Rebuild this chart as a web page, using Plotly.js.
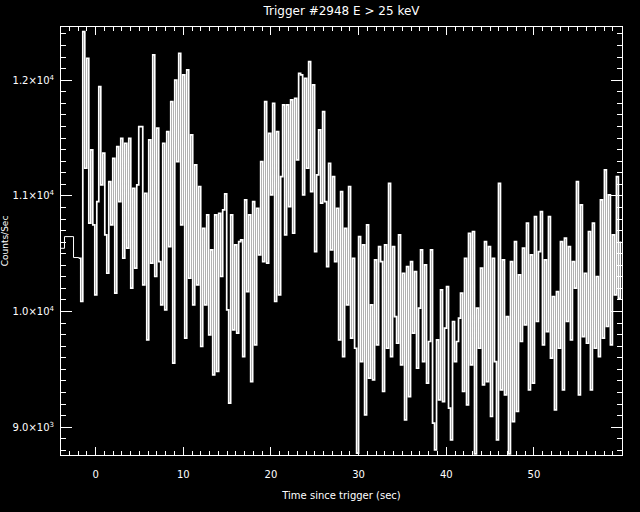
<!DOCTYPE html>
<html>
<head>
<meta charset="utf-8">
<script src="https://cdn.plot.ly/plotly-3.0.1.min.js"></script>
<style>html,body{margin:0;padding:0;background:#000;}#chart{width:640px;height:512px;}</style>
</head>
<body>
<div id="chart"></div>
<script>
// Pre-trigger (1.024 s) bins: start times and counts/sec
const preTimes = [-4.58, -3.55, -2.52];
const preCounts = [10547, 10648, 10467];

// Post-trigger high-resolution data: start time and bin width (sec)
const fineStart = -1.92;
const fineBin = 0.228;
const fineCounts = [
  10461,10087,12420,11239,12190,10764,11397,10749,10144,10951,11945,11095,11369,10663,10331,11124,
  10749,11325,10159,11426,10951,11498,10461,11455,10548,11498,10202,11066,10375,11095,11599,
  11599,10231,11023,9755,11484,10418,12219,10303,11585,10432,10058,11455,10015,11556,10562,11815,
  9554,12002,11297,12233,10749,12046,9770,12089,10288,11527,10058,11268,10231,11081,9698,10720,
  10058,10836,9799,10533,9453,10836,9482,10850,
  10303,10879,11017,10015,9208,10836,9842,10576,9813,10605,10620,9611,10965,10173,10836,9395,
  10951,9712,10893,10490,11297,10432,11815,10418,11541,11009,11801,10087,11556,10144,11167,11786,
  10663,11786,10908,11830,10677,11844,11311,12060,
  12046,11009,12017,11239,12161,11037,11959,10519,11181,11570,10937,11729,10951,10389,11282,10533,
  11167,10432,10893,9755,11037,9611,10720,10058,11081,9770,10461,9683,8776,10648,9568,10576,
  9107,10749,9424,10058,9410,10447,9712,10562,
  10432,9309,10576,9683,11109,9611,10562,9957,9726,10663,9539,10331,9064,10389,9265,10432,
  9813,10346,9510,10029,10533,9568,10403,9381,9741,10533,9035,8805,9755,9237,10187,9222,
  9856,10216,9165,8891,9914,9568,9741,9943,
  10159,9309,10461,9193,10677,9539,10692,8770,10029,9683,10375,9366,10605,9395,10562,9093,
  10461,9568,8891,11109,9323,10447,9280,9957,8770,10432,9049,10605,9136,10317,9741,10548,
  9885,10764,9323,10490,9381,10821,9914,10519,
  10864,9712,10447,9827,10821,9597,10130,9150,10173,9683,10605,9323,10634,9914,10562,9755,
  10432,10202,11124,9280,10922,9784,10331,9726,10692,9323,10764,9683,10303,9611,10965,9770,
  11225,9871,11009,9712,10663,10144,11167,10115,10605
];

// Axis ticks
const yTickVals = [9000, 10000, 11000, 12000];
const yTickText = ['9.0×10<sup>3</sup>', '1.0×10<sup>4</sup>', '1.1×10<sup>4</sup>', '1.2×10<sup>4</sup>'];
const xTickVals = [0, 10, 20, 30, 40, 50];

const fineTimes = fineCounts.map((v, i) => fineStart + i * fineBin);

const txtFont = (s) => ({family: 'DejaVu Sans, sans-serif', color: '#ffffff', size: s});

const preTrace = {
  x: preTimes.concat([fineTimes[0]]), y: preCounts.concat([fineCounts[0]]),
  type: 'scatter', mode: 'lines',
  line: {color: '#ffffff', width: 1, shape: 'hv'}, hoverinfo: 'skip'
};
const fineTrace = {
  x: fineTimes, y: fineCounts, type: 'scatter', mode: 'lines',
  line: {color: '#ffffff', width: 1.7, shape: 'hv'}, hoverinfo: 'skip'
};

const layout = {
  width: 640, height: 512,
  paper_bgcolor: '#000000', plot_bgcolor: '#000000',
  margin: {l: 61, r: 18, t: 27, b: 57},
  showlegend: false,
  font: txtFont(10),
  title: {text: 'Trigger #2948 E > 25 keV', font: txtFont(12),
          x: 0.5, xref: 'paper', xanchor: 'center', y: 1, yref: 'container', yanchor: 'top', pad: {t: 7}},
  xaxis: {
    range: [-3.95, 60.05], showgrid: false, zeroline: false,
    showline: true, linecolor: '#ffffff', linewidth: 1, mirror: 'ticks',
    ticks: 'inside', ticklen: 8, tickcolor: '#ffffff', tickwidth: 1,
    tickvals: xTickVals, ticktext: xTickVals.map(String),
    minor: {dtick: 1, tick0: 0, ticks: 'inside', ticklen: 4, tickcolor: '#ffffff', tickwidth: 1, showgrid: false},
    tickfont: txtFont(10),
    ticklabelstandoff: 10,
    title: {text: 'Time since trigger (sec)', font: txtFont(10), standoff: 12}
  },
  yaxis: {
    range: [8760, 12460], showgrid: false, zeroline: false,
    showline: true, linecolor: '#ffffff', linewidth: 1, mirror: 'ticks',
    ticks: 'inside', ticklen: 11, tickcolor: '#ffffff', tickwidth: 1,
    tickvals: yTickVals, ticktext: yTickText,
    minor: {dtick: 100, tick0: 0, ticks: 'inside', ticklen: 5, tickcolor: '#ffffff', tickwidth: 1, showgrid: false},
    tickfont: txtFont(10),
    ticklabelstandoff: 4,
    title: {text: 'Counts/Sec', font: txtFont(9), standoff: 6}
  }
};

Plotly.newPlot('chart', [preTrace, fineTrace], layout, {displayModeBar: false, staticPlot: true});
</script>
</body>
</html>
